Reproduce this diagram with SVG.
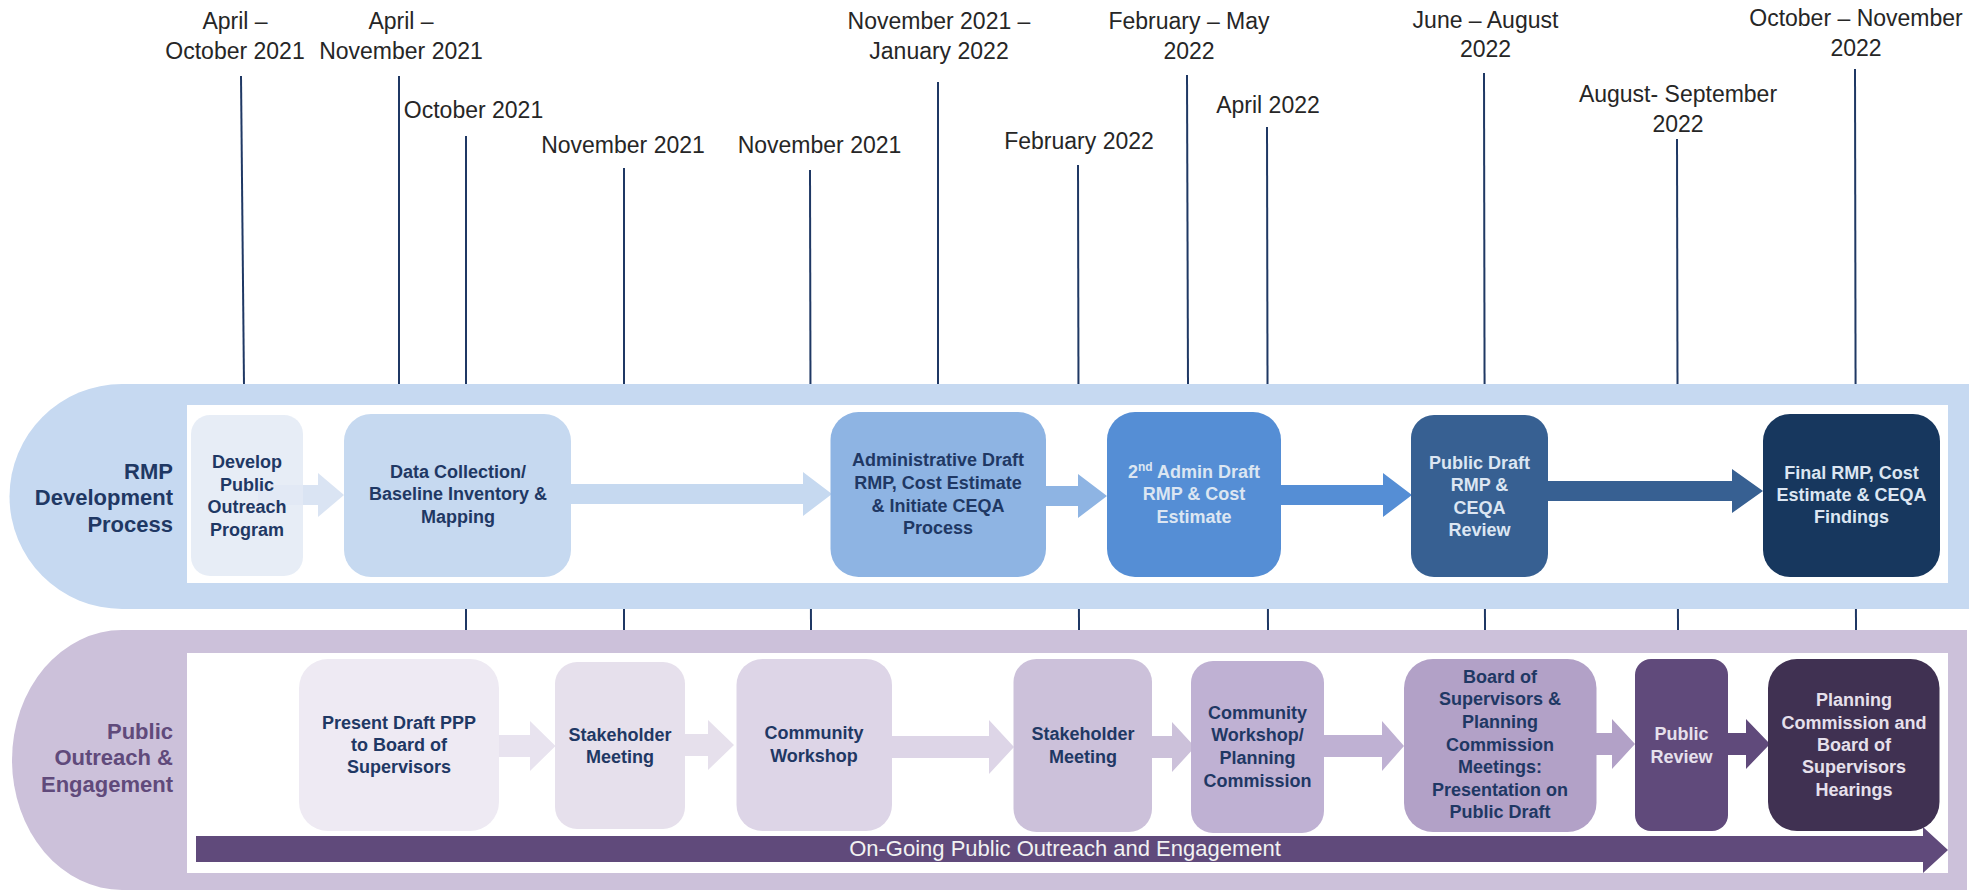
<svg xmlns="http://www.w3.org/2000/svg" width="1979" height="893" viewBox="0 0 1979 893">
<style>
text{font-family:"Liberation Sans",Arial,sans-serif}
.dl{font-size:23px;fill:#262626;text-anchor:middle}
.tl{stroke:#1F3864;stroke-width:2}
.nt{font-weight:bold;font-size:18px;text-anchor:middle}
.dk{fill:#1F3864}
.lt{fill:#DCE6F2}
.lp{fill:#E6E0EC}
.lane{font-weight:bold;font-size:22px;text-anchor:end}
</style>
<rect width="1979" height="893" fill="#FFFFFF"/>
<g id="timeline">
<line class="tl" x1="241" y1="76" x2="244" y2="386"/>
<line class="tl" x1="399" y1="76" x2="399" y2="386"/>
<line class="tl" x1="466" y1="136" x2="466" y2="632"/>
<line class="tl" x1="624" y1="168" x2="624" y2="632"/>
<line class="tl" x1="810" y1="170" x2="811" y2="632"/>
<line class="tl" x1="938" y1="82" x2="938" y2="386"/>
<line class="tl" x1="1078" y1="165" x2="1079" y2="632"/>
<line class="tl" x1="1187" y1="75" x2="1188" y2="386"/>
<line class="tl" x1="1267" y1="127" x2="1268" y2="632"/>
<line class="tl" x1="1484" y1="73" x2="1485" y2="632"/>
<line class="tl" x1="1677" y1="139" x2="1678" y2="632"/>
<line class="tl" x1="1855" y1="69" x2="1856" y2="632"/>
</g>
<g id="dates">
<text class="dl" x="235" y="28.5">April –</text>
<text class="dl" x="235" y="58.5">October 2021</text>
<text class="dl" x="401" y="28.5">April –</text>
<text class="dl" x="401" y="58.5">November 2021</text>
<text class="dl" x="473.5" y="118">October 2021</text>
<text class="dl" x="623" y="153">November 2021</text>
<text class="dl" x="819.5" y="153">November 2021</text>
<text class="dl" x="939" y="28.5">November 2021 –</text>
<text class="dl" x="939" y="58.5">January 2022</text>
<text class="dl" x="1079" y="149">February 2022</text>
<text class="dl" x="1189" y="28.5">February – May</text>
<text class="dl" x="1189" y="58.5">2022</text>
<text class="dl" x="1268" y="112.5">April 2022</text>
<text class="dl" x="1485.5" y="27.5">June – August</text>
<text class="dl" x="1485.5" y="57">2022</text>
<text class="dl" x="1678" y="102">August- September</text>
<text class="dl" x="1678" y="132">2022</text>
<text class="dl" x="1856" y="25.5">October – November</text>
<text class="dl" x="1856" y="56">2022</text>
</g>
<g id="lane-rmp">
<path d="M122,384 H1969 V609 H122 A112.5 112.5 0 0 1 122,384 Z" fill="#C6D9F1"/>
<rect x="187" y="405" width="1761" height="178" fill="#FFFFFF"/>
<text class="lane dk" x="173" y="479">RMP</text>
<text class="lane dk" x="173" y="505">Development</text>
<text class="lane dk" x="173" y="532">Process</text>
</g>
<g id="lane-outreach">
<path d="M122,630 H1967 V890 H122 A110 130 0 0 1 122,630 Z" fill="#CCC1DA"/>
<rect x="187" y="653" width="1761" height="220" fill="#FFFFFF"/>
<text class="lane" fill="#604A7B" x="173" y="739">Public</text>
<text class="lane" fill="#604A7B" x="173" y="765">Outreach &amp;</text>
<text class="lane" fill="#604A7B" x="173" y="792">Engagement</text>
</g>
<g id="connectors">
<polygon points="258,485 318,485 318,473 344,495 318,517 318,505 258,505" fill="#DAE4F3"/>
<polygon points="571,484 803,484 803,472 832,494 803,516 803,504 571,504" fill="#C6D9F0"/>
<polygon points="1046,486 1078,486 1078,474 1107,496 1078,518 1078,506 1046,506" fill="#8EB4E3"/>
<polygon points="1281,485 1383,485 1383,473 1412,495 1383,517 1383,505 1281,505" fill="#558ED5"/>
<polygon points="1548,481 1732,481 1732,469 1763,491 1732,513 1732,501 1548,501" fill="#376092"/>
<polygon points="499,735 530,735 530,721 555.5,746 530,771 530,757 499,757" fill="#E8E3EF"/>
<polygon points="685,734 708,734 708,720 734,745 708,770 708,756 685,756" fill="#E6E0EC"/>
<polygon points="892,736 989,736 989,720 1014,747 989,774 989,758 892,758" fill="#DDD5E7"/>
<polygon points="1152,736 1172,736 1172,722 1195,747 1172,772 1172,758 1152,758" fill="#CCC1DA"/>
<polygon points="1324,735 1382,735 1382,721 1404,746 1382,771 1382,757 1324,757" fill="#BFB1D3"/>
<polygon points="1596,733 1612,733 1612,719 1635,744 1612,769 1612,755 1596,755" fill="#B2A1C7"/>
<polygon points="1728,733 1746,733 1746,719 1770,744 1746,769 1746,755 1728,755" fill="#604A7B"/>
<polygon points="196,836 1923,836 1923,827 1948,850 1923,873 1923,862 196,862" fill="#604A7B"/>
<text x="1065" y="856" font-size="22" text-anchor="middle" fill="#F2F2F2">On-Going Public Outreach and Engagement</text>
</g>
<g id="n1">
<rect x="191" y="415" width="112" height="161" rx="19" fill="#E3EAF5" fill-opacity="0.85"/>
<text class="nt dk" x="247"><tspan x="247" y="468">Develop</tspan><tspan x="247" y="491">Public</tspan><tspan x="247" y="513">Outreach</tspan><tspan x="247" y="536">Program</tspan></text>
</g>
<g id="n2">
<rect x="344" y="414" width="227" height="163" rx="27" fill="#C6D9F0"/>
<text class="nt dk"><tspan x="458" y="478">Data Collection/</tspan><tspan x="458" y="500">Baseline Inventory &amp;</tspan><tspan x="458" y="523">Mapping</tspan></text>
</g>
<g id="n3">
<rect x="830.5" y="412" width="215.5" height="165" rx="28" fill="#8EB4E3"/>
<text class="nt dk"><tspan x="938" y="466">Administrative Draft</tspan><tspan x="938" y="489">RMP, Cost Estimate</tspan><tspan x="938" y="512">&amp; Initiate CEQA</tspan><tspan x="938" y="534">Process</tspan></text>
</g>
<g id="n4">
<rect x="1107" y="412" width="174" height="165" rx="28" fill="#558ED5"/>
<text class="nt lt"><tspan x="1194" y="478">2<tspan font-size="12" dy="-7">nd</tspan><tspan dy="7"> Admin Draft</tspan></tspan><tspan x="1194" y="500">RMP &amp; Cost</tspan><tspan x="1194" y="523">Estimate</tspan></text>
</g>
<g id="n5">
<rect x="1411" y="415" width="137" height="162" rx="23" fill="#376092"/>
<text class="nt lt"><tspan x="1479.5" y="469">Public Draft</tspan><tspan x="1479.5" y="491">RMP &amp;</tspan><tspan x="1479.5" y="514">CEQA</tspan><tspan x="1479.5" y="536">Review</tspan></text>
</g>
<g id="n6">
<rect x="1763" y="414" width="177" height="163" rx="27" fill="#17375E"/>
<text class="nt lt"><tspan x="1851.5" y="479">Final RMP, Cost</tspan><tspan x="1851.5" y="501">Estimate &amp; CEQA</tspan><tspan x="1851.5" y="523">Findings</tspan></text>
</g>
<g id="p1">
<rect x="299" y="659" width="200" height="172" rx="29" fill="#EEEAF3"/>
<text class="nt dk"><tspan x="399" y="729">Present Draft PPP</tspan><tspan x="399" y="751">to Board of</tspan><tspan x="399" y="773">Supervisors</tspan></text>
</g>
<g id="p2">
<rect x="555" y="662" width="130" height="167" rx="22" fill="#E6E0EC"/>
<text class="nt dk"><tspan x="620" y="741">Stakeholder</tspan><tspan x="620" y="763">Meeting</tspan></text>
</g>
<g id="p3">
<rect x="736.5" y="659" width="155.5" height="172" rx="26" fill="#DDD5E7"/>
<text class="nt dk"><tspan x="814" y="739">Community</tspan><tspan x="814" y="762">Workshop</tspan></text>
</g>
<g id="p4">
<rect x="1013.5" y="659" width="138.5" height="173" rx="23" fill="#CCC1DA"/>
<text class="nt dk"><tspan x="1083" y="740">Stakeholder</tspan><tspan x="1083" y="763">Meeting</tspan></text>
</g>
<g id="p5">
<rect x="1191" y="661" width="133" height="172" rx="22" fill="#BFB1D3"/>
<text class="nt dk"><tspan x="1257.5" y="719">Community</tspan><tspan x="1257.5" y="741">Workshop/</tspan><tspan x="1257.5" y="764">Planning</tspan><tspan x="1257.5" y="787">Commission</tspan></text>
</g>
<g id="p6">
<rect x="1404" y="659" width="192.5" height="173" rx="29" fill="#B2A1C7"/>
<text class="nt dk"><tspan x="1500" y="683">Board of</tspan><tspan x="1500" y="705">Supervisors &amp;</tspan><tspan x="1500" y="728">Planning</tspan><tspan x="1500" y="751">Commission</tspan><tspan x="1500" y="773">Meetings:</tspan><tspan x="1500" y="796">Presentation on</tspan><tspan x="1500" y="818">Public Draft</tspan></text>
</g>
<g id="p7">
<rect x="1635" y="659" width="93" height="172" rx="16" fill="#604A7B"/>
<text class="nt lp"><tspan x="1681.5" y="740">Public</tspan><tspan x="1681.5" y="763">Review</tspan></text>
</g>
<g id="p8">
<rect x="1768" y="659" width="171.5" height="172" rx="29" fill="#403152"/>
<text class="nt lp"><tspan x="1854" y="706">Planning</tspan><tspan x="1854" y="729">Commission and</tspan><tspan x="1854" y="751">Board of</tspan><tspan x="1854" y="773">Supervisors</tspan><tspan x="1854" y="796">Hearings</tspan></text>
</g>
</svg>
